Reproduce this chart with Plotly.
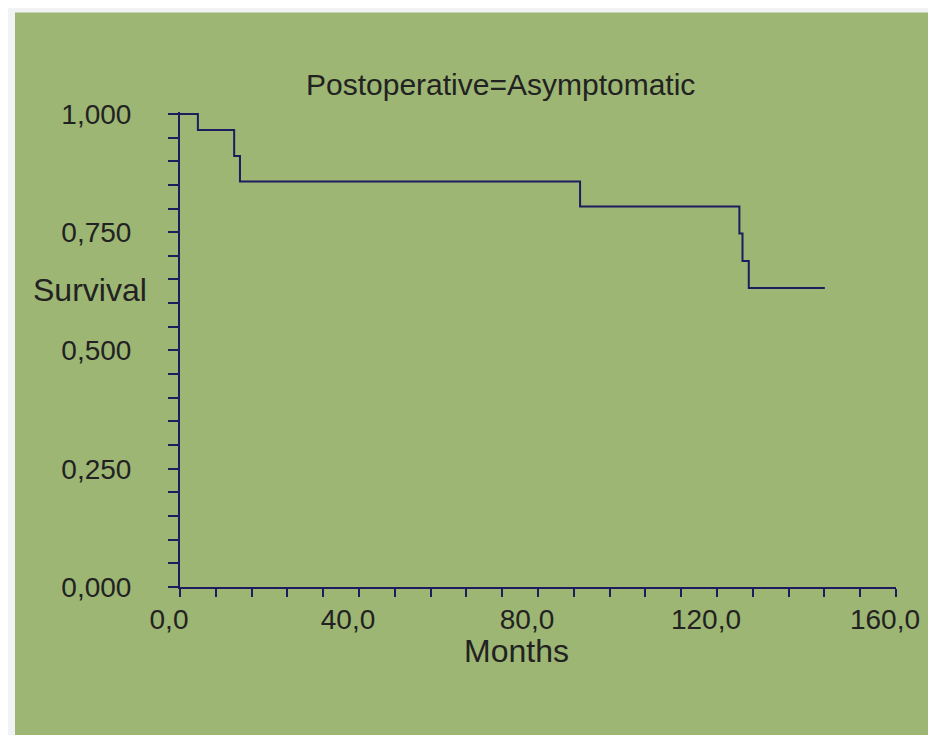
import plotly.graph_objects as go

# Kaplan-Meier step data
months = [0.0, 4.0, 12.1, 13.4, 89.4, 125.0, 125.7, 127.1, 144.1]
survival = [1.000, 0.966, 0.911, 0.857, 0.804, 0.747, 0.689, 0.632, 0.632]

x_tick_vals = [i * 8 for i in range(21)]
x_tick_text = [("%.1f" % v).replace(".", ",") if v % 40 == 0 else "" for v in x_tick_vals]
y_tick_vals = [round(i * 0.05, 2) for i in range(21)]
y_tick_text = [("%.3f" % v).replace(".", ",") if i % 5 == 0 else "" for i, v in enumerate(y_tick_vals)]

title_text = "Postoperative=Asymptomatic"
y_label = "Survival"
x_label = "Months"

NAVY = "#1c1c5e"
GREEN = "#9db673"
GRAY = "#f1f2f4"
TXT = "#222222"
FONT = "Arial, Liberation Sans, sans-serif"

# page has an 8px body margin, so the figure is placed at (8, 8);
# make the figure a bit larger so the green runs to the window edges
OFF = 8
W, H = 936, 735
PL, PR, PT, PB = 180, 896, 112, 587          # plot area in page pixels
L, R, T, B = PL - OFF, OFF + W - PR, PT - OFF, OFF + H - PB
pw, ph = PR - PL, PB - PT


def px_x(p):
    return (p - PL) / pw


def px_y(p):
    return (PB - p) / ph


fig = go.Figure()
fig.add_trace(go.Scatter(
    x=months, y=survival, mode="lines", line_shape="hv",
    line=dict(color=NAVY, width=2), showlegend=False, hoverinfo="skip"))

fig.update_layout(
    width=W, height=H,
    margin=dict(l=L, r=R, t=T, b=B, pad=0),
    paper_bgcolor=GREEN, plot_bgcolor=GREEN,
    font=dict(family=FONT, color=TXT),
    shapes=[
        dict(type="rect", xref="paper", yref="paper", layer="below",
             x0=px_x(0), x1=px_x(960), y0=px_y(0), y1=px_y(760),
             fillcolor="white", line=dict(width=0)),
        dict(type="rect", xref="paper", yref="paper", layer="below",
             x0=px_x(8), x1=px_x(960), y0=px_y(0), y1=px_y(760),
             fillcolor=GRAY, line=dict(width=0)),
        dict(type="rect", xref="paper", yref="paper", layer="below",
             x0=px_x(15), x1=px_x(960), y0=px_y(12.5), y1=px_y(760),
             fillcolor=GREEN, line=dict(width=0)),
    ],
    annotations=[
        dict(text=title_text, xref="x", yref="paper", x=71.7, y=px_y(84),
             xanchor="center", yanchor="middle", showarrow=False,
             font=dict(size=30, color=TXT, family=FONT)),
        dict(text=y_label, xref="paper", yref="y", x=px_x(149), y=0.627,
             xanchor="right", yanchor="middle", showarrow=False,
             font=dict(size=32, color=TXT, family=FONT)),
        dict(text=x_label, xref="x", yref="paper", x=75.2, y=px_y(651),
             xanchor="center", yanchor="middle", showarrow=False,
             font=dict(size=32, color=TXT, family=FONT)),
    ],
)

fig.update_xaxes(
    range=[0, 160], tickmode="array", tickvals=x_tick_vals, ticktext=x_tick_text,
    showgrid=False, zeroline=False, showline=True, linecolor=NAVY, linewidth=2,
    ticks="outside", ticklen=8, tickwidth=2, tickcolor=NAVY,
    tickfont=dict(size=28, color=TXT, family=FONT),
    ticklabelshift=-11, ticklabelstandoff=-2, fixedrange=True)

fig.update_yaxes(
    range=[0, 1.004], tickmode="array", tickvals=y_tick_vals, ticktext=y_tick_text,
    showgrid=False, zeroline=False, showline=True, linecolor=NAVY, linewidth=2,
    ticks="outside", ticklen=10, tickwidth=2, tickcolor=NAVY,
    tickfont=dict(size=28, color=TXT, family=FONT),
    ticklabelstandoff=31, fixedrange=True)

fig.write_html("out.html",
               post_script="document.documentElement.style.overflow='hidden';"
                           "document.body.style.overflow='hidden';")
